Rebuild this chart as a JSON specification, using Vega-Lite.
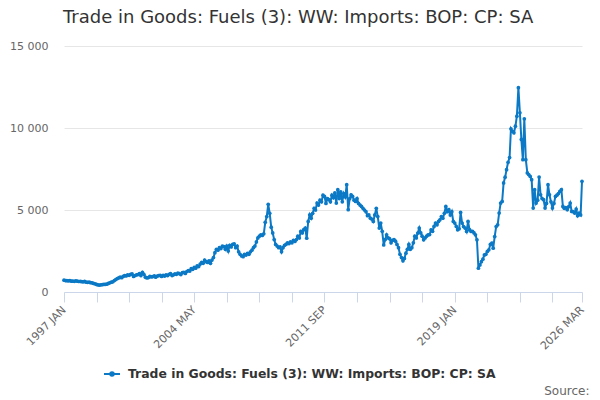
{
  "$schema": "https://vega.github.io/schema/vega-lite/v6.json",
  "autosize": "none",
  "width": 518,
  "height": 246,
  "padding": {"left": 64, "top": 46, "right": 18, "bottom": 108},
  "background": "#ffffff",
  "config": {"font": "DejaVu Sans", "view": {"stroke": null}},
  "title": {"text": "Trade in Goods: Fuels (3): WW: Imports: BOP: CP: SA", "anchor": "start", "frame": "group", "fontSize": 18, "fontWeight": "normal", "color": "#333333", "offset": 13, "dx": -1},
  "data": {
    "format": {"parse": {"d": "utc:'%Y-%m'"}},
    "values": [
      {"d":"1997-01","v":720},{"d":"1997-02","v":700},{"d":"1997-03","v":690},{"d":"1997-04","v":680},{"d":"1997-05","v":700},{"d":"1997-06","v":660},{"d":"1997-07","v":670},{"d":"1997-08","v":650},{"d":"1997-09","v":680},{"d":"1997-10","v":660},{"d":"1997-11","v":640},{"d":"1997-12","v":650},
      {"d":"1998-01","v":630},{"d":"1998-02","v":620},{"d":"1998-03","v":650},{"d":"1998-04","v":600},{"d":"1998-05","v":590},{"d":"1998-06","v":610},{"d":"1998-07","v":570},{"d":"1998-08","v":560},{"d":"1998-09","v":520},{"d":"1998-10","v":500},{"d":"1998-11","v":460},{"d":"1998-12","v":430},
      {"d":"1999-01","v":420},{"d":"1999-02","v":440},{"d":"1999-03","v":450},{"d":"1999-04","v":460},{"d":"1999-05","v":470},{"d":"1999-06","v":480},{"d":"1999-07","v":520},{"d":"1999-08","v":560},{"d":"1999-09","v":600},{"d":"1999-10","v":620},{"d":"1999-11","v":700},{"d":"1999-12","v":760},
      {"d":"2000-01","v":820},{"d":"2000-02","v":860},{"d":"2000-03","v":900},{"d":"2000-04","v":870},{"d":"2000-05","v":950},{"d":"2000-06","v":1000},{"d":"2000-07","v":980},{"d":"2000-08","v":1050},{"d":"2000-09","v":1020},{"d":"2000-10","v":1080},{"d":"2000-11","v":1100},{"d":"2000-12","v":950},
      {"d":"2001-01","v":1000},{"d":"2001-02","v":1050},{"d":"2001-03","v":1060},{"d":"2001-04","v":1120},{"d":"2001-05","v":1000},{"d":"2001-06","v":1200},{"d":"2001-07","v":1080},{"d":"2001-08","v":900},{"d":"2001-09","v":860},{"d":"2001-10","v":880},{"d":"2001-11","v":950},{"d":"2001-12","v":920},
      {"d":"2002-01","v":940},{"d":"2002-02","v":980},{"d":"2002-03","v":900},{"d":"2002-04","v":970},{"d":"2002-05","v":1000},{"d":"2002-06","v":1010},{"d":"2002-07","v":950},{"d":"2002-08","v":1020},{"d":"2002-09","v":970},{"d":"2002-10","v":1050},{"d":"2002-11","v":1000},{"d":"2002-12","v":1080},
      {"d":"2003-01","v":1120},{"d":"2003-02","v":1000},{"d":"2003-03","v":1050},{"d":"2003-04","v":1100},{"d":"2003-05","v":1080},{"d":"2003-06","v":1150},{"d":"2003-07","v":1120},{"d":"2003-08","v":1060},{"d":"2003-09","v":1180},{"d":"2003-10","v":1200},{"d":"2003-11","v":1130},{"d":"2003-12","v":1250},
      {"d":"2004-01","v":1300},{"d":"2004-02","v":1280},{"d":"2004-03","v":1420},{"d":"2004-04","v":1380},{"d":"2004-05","v":1500},{"d":"2004-06","v":1450},{"d":"2004-07","v":1600},{"d":"2004-08","v":1550},{"d":"2004-09","v":1700},{"d":"2004-10","v":1800},{"d":"2004-11","v":1750},{"d":"2004-12","v":1950},
      {"d":"2005-01","v":1850},{"d":"2005-02","v":1800},{"d":"2005-03","v":1900},{"d":"2005-04","v":1750},{"d":"2005-05","v":1950},{"d":"2005-06","v":2100},{"d":"2005-07","v":2400},{"d":"2005-08","v":2600},{"d":"2005-09","v":2550},{"d":"2005-10","v":2700},{"d":"2005-11","v":2650},{"d":"2005-12","v":2800},
      {"d":"2006-01","v":2770},{"d":"2006-02","v":2600},{"d":"2006-03","v":2800},{"d":"2006-04","v":2500},{"d":"2006-05","v":2850},{"d":"2006-06","v":2750},{"d":"2006-07","v":2900},{"d":"2006-08","v":2940},{"d":"2006-09","v":2700},{"d":"2006-10","v":2800},{"d":"2006-11","v":2450},{"d":"2006-12","v":2300},
      {"d":"2007-01","v":2200},{"d":"2007-02","v":2150},{"d":"2007-03","v":2300},{"d":"2007-04","v":2250},{"d":"2007-05","v":2350},{"d":"2007-06","v":2300},{"d":"2007-07","v":2450},{"d":"2007-08","v":2550},{"d":"2007-09","v":2700},{"d":"2007-10","v":2800},{"d":"2007-11","v":3050},{"d":"2007-12","v":3300},
      {"d":"2008-01","v":3400},{"d":"2008-02","v":3490},{"d":"2008-03","v":3450},{"d":"2008-04","v":3550},{"d":"2008-05","v":4250},{"d":"2008-06","v":4600},{"d":"2008-07","v":5350},{"d":"2008-08","v":4800},{"d":"2008-09","v":3950},{"d":"2008-10","v":3600},{"d":"2008-11","v":3200},{"d":"2008-12","v":2900},
      {"d":"2009-01","v":2800},{"d":"2009-02","v":2700},{"d":"2009-03","v":2750},{"d":"2009-04","v":2450},{"d":"2009-05","v":2700},{"d":"2009-06","v":2850},{"d":"2009-07","v":2900},{"d":"2009-08","v":3000},{"d":"2009-09","v":2950},{"d":"2009-10","v":3050},{"d":"2009-11","v":3000},{"d":"2009-12","v":3150},
      {"d":"2010-01","v":3080},{"d":"2010-02","v":3200},{"d":"2010-03","v":3400},{"d":"2010-04","v":3300},{"d":"2010-05","v":3690},{"d":"2010-06","v":3600},{"d":"2010-07","v":3800},{"d":"2010-08","v":3900},{"d":"2010-09","v":3280},{"d":"2010-10","v":4300},{"d":"2010-11","v":4710},{"d":"2010-12","v":4500},
      {"d":"2011-01","v":4800},{"d":"2011-02","v":5100},{"d":"2011-03","v":5000},{"d":"2011-04","v":5420},{"d":"2011-05","v":5300},{"d":"2011-06","v":5600},{"d":"2011-07","v":5500},{"d":"2011-08","v":5900},{"d":"2011-09","v":5830},{"d":"2011-10","v":5400},{"d":"2011-11","v":5700},{"d":"2011-12","v":5630},
      {"d":"2012-01","v":5500},{"d":"2012-02","v":5900},{"d":"2012-03","v":5750},{"d":"2012-04","v":6040},{"d":"2012-05","v":5420},{"d":"2012-06","v":6240},{"d":"2012-07","v":5700},{"d":"2012-08","v":6100},{"d":"2012-09","v":5500},{"d":"2012-10","v":6000},{"d":"2012-11","v":5800},{"d":"2012-12","v":6540},
      {"d":"2013-01","v":5020},{"d":"2013-02","v":5700},{"d":"2013-03","v":5930},{"d":"2013-04","v":5830},{"d":"2013-05","v":5600},{"d":"2013-06","v":5520},{"d":"2013-07","v":5700},{"d":"2013-08","v":5400},{"d":"2013-09","v":5300},{"d":"2013-10","v":5220},{"d":"2013-11","v":5100},{"d":"2013-12","v":5000},
      {"d":"2014-01","v":4900},{"d":"2014-02","v":4650},{"d":"2014-03","v":4700},{"d":"2014-04","v":4500},{"d":"2014-05","v":4450},{"d":"2014-06","v":4300},{"d":"2014-07","v":4700},{"d":"2014-08","v":5100},{"d":"2014-09","v":4600},{"d":"2014-10","v":3900},{"d":"2014-11","v":4200},{"d":"2014-12","v":3700},
      {"d":"2015-01","v":2870},{"d":"2015-02","v":3200},{"d":"2015-03","v":3490},{"d":"2015-04","v":3300},{"d":"2015-05","v":3250},{"d":"2015-06","v":3000},{"d":"2015-07","v":3150},{"d":"2015-08","v":3200},{"d":"2015-09","v":3100},{"d":"2015-10","v":2900},{"d":"2015-11","v":2700},{"d":"2015-12","v":2300},
      {"d":"2016-01","v":2100},{"d":"2016-02","v":1900},{"d":"2016-03","v":2050},{"d":"2016-04","v":2370},{"d":"2016-05","v":2600},{"d":"2016-06","v":2900},{"d":"2016-07","v":2600},{"d":"2016-08","v":2700},{"d":"2016-09","v":3000},{"d":"2016-10","v":3400},{"d":"2016-11","v":3300},{"d":"2016-12","v":3590},
      {"d":"2017-01","v":3900},{"d":"2017-02","v":3600},{"d":"2017-03","v":3400},{"d":"2017-04","v":3180},{"d":"2017-05","v":3300},{"d":"2017-06","v":3400},{"d":"2017-07","v":3490},{"d":"2017-08","v":3500},{"d":"2017-09","v":3790},{"d":"2017-10","v":3700},{"d":"2017-11","v":4000},{"d":"2017-12","v":4200},
      {"d":"2018-01","v":4100},{"d":"2018-02","v":4300},{"d":"2018-03","v":4400},{"d":"2018-04","v":4600},{"d":"2018-05","v":4500},{"d":"2018-06","v":4800},{"d":"2018-07","v":5220},{"d":"2018-08","v":4900},{"d":"2018-09","v":5020},{"d":"2018-10","v":4700},{"d":"2018-11","v":4900},{"d":"2018-12","v":4300},
      {"d":"2019-01","v":4200},{"d":"2019-02","v":4000},{"d":"2019-03","v":3790},{"d":"2019-04","v":3850},{"d":"2019-05","v":4850},{"d":"2019-06","v":4200},{"d":"2019-07","v":3990},{"d":"2019-08","v":3900},{"d":"2019-09","v":3690},{"d":"2019-10","v":4300},{"d":"2019-11","v":3800},{"d":"2019-12","v":3690},
      {"d":"2020-01","v":3700},{"d":"2020-02","v":3600},{"d":"2020-03","v":3490},{"d":"2020-04","v":3180},{"d":"2020-05","v":1450},{"d":"2020-06","v":1650},{"d":"2020-07","v":1850},{"d":"2020-08","v":2000},{"d":"2020-09","v":2260},{"d":"2020-10","v":2300},{"d":"2020-11","v":2470},{"d":"2020-12","v":2570},
      {"d":"2021-01","v":2900},{"d":"2021-02","v":2980},{"d":"2021-03","v":2670},{"d":"2021-04","v":3380},{"d":"2021-05","v":3990},{"d":"2021-06","v":4100},{"d":"2021-07","v":4810},{"d":"2021-08","v":5420},{"d":"2021-09","v":5520},{"d":"2021-10","v":6650},{"d":"2021-11","v":7000},{"d":"2021-12","v":7460},
      {"d":"2022-01","v":7910},{"d":"2022-02","v":8200},{"d":"2022-03","v":9950},{"d":"2022-04","v":9800},{"d":"2022-05","v":9710},{"d":"2022-06","v":10110},{"d":"2022-07","v":10720},{"d":"2022-08","v":12460},{"d":"2022-09","v":10930},{"d":"2022-10","v":9300},{"d":"2022-11","v":8070},{"d":"2022-12","v":10560},
      {"d":"2023-01","v":8070},{"d":"2023-02","v":7260},{"d":"2023-03","v":7160},{"d":"2023-04","v":7050},{"d":"2023-05","v":6850},{"d":"2023-06","v":5120},{"d":"2023-07","v":6240},{"d":"2023-08","v":5420},{"d":"2023-09","v":5600},{"d":"2023-10","v":7010},{"d":"2023-11","v":5930},{"d":"2023-12","v":5700},
      {"d":"2024-01","v":5630},{"d":"2024-02","v":5120},{"d":"2024-03","v":5400},{"d":"2024-04","v":6540},{"d":"2024-05","v":5930},{"d":"2024-06","v":5500},{"d":"2024-07","v":5120},{"d":"2024-08","v":5400},{"d":"2024-09","v":5830},{"d":"2024-10","v":5900},{"d":"2024-11","v":6000},{"d":"2024-12","v":6140},
      {"d":"2025-01","v":6240},{"d":"2025-02","v":5220},{"d":"2025-03","v":5100},{"d":"2025-04","v":5150},{"d":"2025-05","v":5020},{"d":"2025-06","v":5200},{"d":"2025-07","v":5420},{"d":"2025-08","v":4910},{"d":"2025-09","v":4900},{"d":"2025-10","v":4810},{"d":"2025-11","v":5060},{"d":"2025-12","v":4650},
      {"d":"2026-01","v":4810},{"d":"2026-02","v":4700},{"d":"2026-03","v":6750}
    ]
  },
  "mark": {"type": "line", "strokeWidth": 2, "point": {"size": 14, "filled": true}},
  "encoding": {
    "x": {
      "field": "d", "type": "temporal",
      "scale": {"type": "utc", "domain": [{"year": 1997, "month": 1, "date": 1, "utc": true}, {"year": 2026, "month": 3, "date": 1, "utc": true}]},
      "axis": {
        "values": [
          {"year": 1997, "month": 1, "utc": true}, {"year": 1998, "month": 11, "utc": true}, {"year": 2000, "month": 9, "utc": true},
          {"year": 2002, "month": 7, "utc": true}, {"year": 2004, "month": 5, "utc": true}, {"year": 2006, "month": 3, "utc": true},
          {"year": 2008, "month": 1, "utc": true}, {"year": 2009, "month": 11, "utc": true}, {"year": 2011, "month": 9, "utc": true},
          {"year": 2013, "month": 7, "utc": true}, {"year": 2015, "month": 5, "utc": true}, {"year": 2017, "month": 3, "utc": true},
          {"year": 2019, "month": 1, "utc": true}, {"year": 2020, "month": 11, "utc": true}, {"year": 2022, "month": 9, "utc": true},
          {"year": 2024, "month": 7, "utc": true}, {"year": 2026, "month": 3, "utc": true}
        ],
        "labelExpr": "((utcyear(datum.value) * 12 + utcmonth(datum.value) - 23964) % 88 == 0 || utcyear(datum.value) == 2026) ? upper(utcFormat(datum.value, '%Y %b')) : ''",
        "labelAngle": -45, "labelAlign": "right", "labelBaseline": "middle", "labelPadding": 6,
        "labelFontSize": 11, "labelColor": "#666666", "labelOverlap": false, "labelBound": false, "labelFlush": false,
        "grid": false, "tickSize": 10, "tickColor": "#ccd6eb", "domainColor": "#ccd6eb",
        "title": "Source:", "titleFontSize": 12, "titleFontWeight": "normal", "titleColor": "#666666",
        "titleAlign": "right", "titleAnchor": null, "titleX": 525, "titleY": 98, "titleBaseline": "middle"
      }
    },
    "y": {
      "field": "v", "type": "quantitative",
      "scale": {"domain": [0, 15000], "nice": false},
      "axis": {
        "values": [0, 5000, 10000, 15000],
        "labelExpr": "replace(format(datum.value, ','), ',', ' ')",
        "labelFontSize": 11, "labelColor": "#666666", "labelPadding": 16,
        "domain": false, "ticks": false, "gridColor": "#e6e6e6", "title": null
      }
    },
    "color": {
      "datum": "Trade in Goods: Fuels (3): WW: Imports: BOP: CP: SA",
      "scale": {"range": ["#0b79c5"]},
      "legend": {
        "orient": "none", "legendX": 39, "legendY": 319, "title": null,
        "symbolType": "M-1,0L1,0M-0.22,0A0.22,0.22,0,1,0,0.22,0A0.22,0.22,0,1,0,-0.22,0Z",
        "symbolSize": 256, "symbolStrokeWidth": 2, "symbolFillColor": "#0b79c5",
        "labelFontSize": 12.4, "labelFontWeight": "bold", "labelColor": "#333333", "labelLimit": 0, "labelOffset": 7
      }
    }
  }
}
